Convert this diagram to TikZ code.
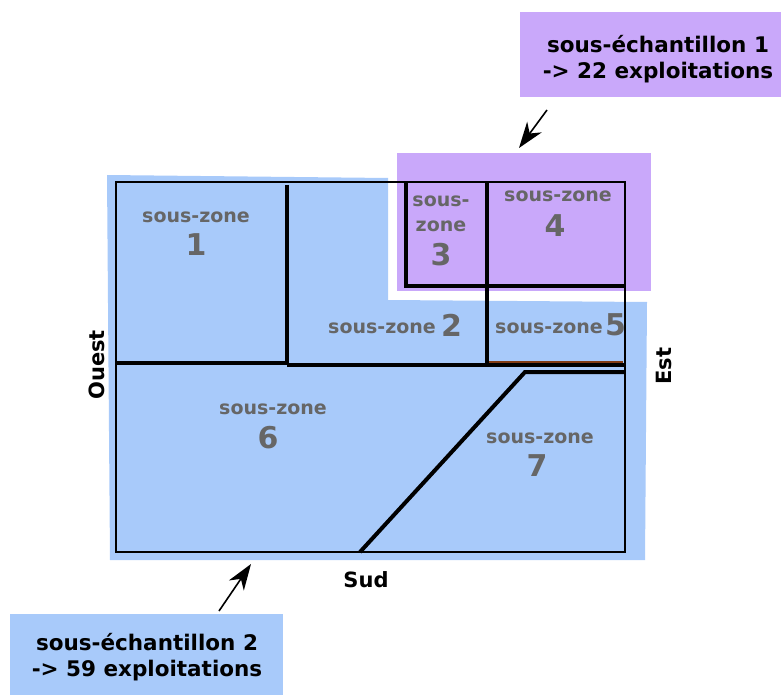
\documentclass[tikz,border=0pt]{standalone}
\usepackage{fontspec}
\setmainfont{DejaVu Sans}
\usetikzlibrary{arrows.meta}
\definecolor{zblue}{RGB}{168,202,250}
\definecolor{zpurple}{RGB}{201,168,250}
\definecolor{zgrey}{RGB}{102,102,102}
\definecolor{zbrown}{RGB}{130,60,20}
\tikzset{
  zl/.style={text=zgrey,font=\bfseries\fontsize{19}{21}\selectfont,inner sep=0pt},
  zn/.style={text=zgrey,font=\bfseries\fontsize{30}{31}\selectfont,inner sep=0pt},
  side/.style={font=\bfseries\fontsize{21}{22}\selectfont,inner sep=0pt},
  callout/.style={font=\bfseries\fontsize{21.5}{26}\selectfont,align=center,inner sep=0pt},
  border/.style={line width=4pt,line join=miter},
  thin border/.style={line width=2.6pt},
  pointer/.style={line width=1.6pt,-{Stealth[length=26pt,width=18pt,inset=8pt]}}
}
\begin{document}
\begin{tikzpicture}[x=1pt,y=-1pt]
\useasboundingbox (0,0) rectangle (781,695);
% background regions
\fill[zblue] (107,175) -- (388,178) -- (388,300) -- (647,302) -- (645,560) -- (110,560) -- cycle;
\fill[zpurple] (397,153) rectangle (651,291);
% outline
\draw[thin border] (116,182) rectangle (625,552);
\draw[border] (287,185) -- (287,365);
\draw[border] (116,363) -- (287,363);
\draw[border] (287,365) -- (625,365);
\draw[border] (406,182) -- (406,286) -- (625,286);
\draw[border] (487,182) -- (487,365);
\draw[line width=1.2pt,zbrown] (489,362) -- (623,362);
\draw[border] (360,552) -- (525,372) -- (625,372);
% zone labels
\node[zl] (z1a) at (196,217) {sous-zone};
\node[zn] (z1b) at (196,245) {1};
\node[zl] (z2a) at (382,328) {sous-zone};
\node[zn,anchor=west] (z2b) at (441,325) {2};
\node[zl] (z3a) at (441,201) {sous-};
\node[zl] (z3b) at (441,226) {zone};
\node[zn] (z3c) at (441,255) {3};
\node[zl] (z4a) at (558,196) {sous-zone};
\node[zn] (z4b) at (555,226) {4};
\node[zl] (z5a) at (549,328) {sous-zone};
\node[zn,anchor=west] (z5b) at (605,325) {5};
\node[zl] (z6a) at (273,409) {sous-zone};
\node[zn] (z6b) at (268,438) {6};
\node[zl] (z7a) at (540,438) {sous-zone};
\node[zn] (z7b) at (537,466) {7};
% sides
\node[side,rotate=90] (ouest) at (97,365) {Ouest};
\node[side,rotate=90] (est) at (664,366) {Est};
\node[side] (sud) at (366,580) {Sud};
% callouts
\node[fill=zpurple,minimum width=261pt,minimum height=85pt,inner sep=0pt] (c1) at (650.5,54.5) {};
\node[callout] (c1t) at (658,59) {sous-échantillon 1\\-> 22 exploitations};
\node[fill=zblue,minimum width=273pt,minimum height=81pt,inner sep=0pt] (c2) at (146.5,654.5) {};
\node[callout] (c2t) at (147,657) {sous-échantillon 2\\-> 59 exploitations};
\coordinate (p1s) at (547,110);
\coordinate (p1e) at (519,148);
\coordinate (p2s) at (219,611);
\coordinate (p2e) at (251,564);
\draw[pointer] (p1s) -- (p1e);
\draw[pointer] (p2s) -- (p2e);
\end{tikzpicture}
\end{document}
